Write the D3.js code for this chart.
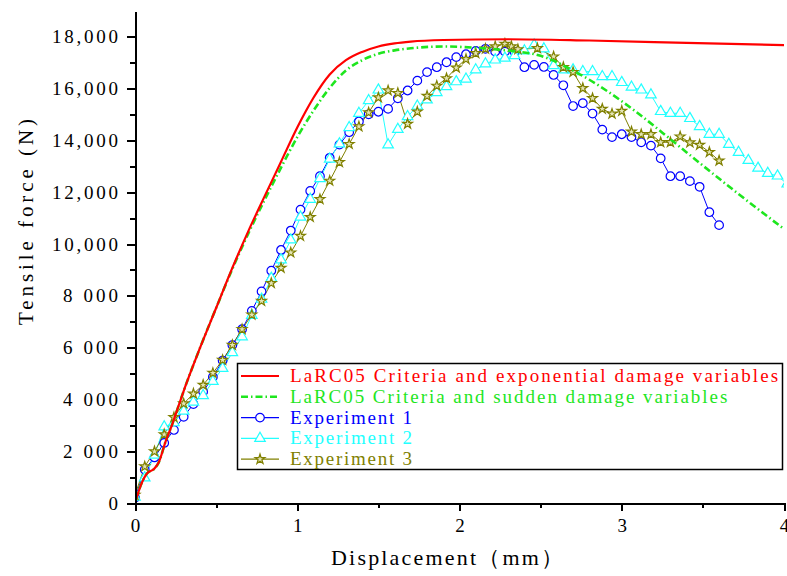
<!DOCTYPE html>
<html>
<head>
<meta charset="utf-8">
<title>Tensile force vs displacement</title>
<style>
body { margin: 0; background: white; }

text {
    font-family: "Liberation Serif", "DejaVu Serif", serif;
}

.axis path, .axis line {
    stroke: black;
    stroke-width: 2px;
    shape-rendering: crispEdges;
}

.axis text {
    font-family: "Liberation Serif", serif;
    font-size: 19px;
    fill: black;
}

.exp {
    fill: none;
    stroke-width: 1px;
}
</style>
</head>
<body>
<div id="chart"></div>
<script src="https://cdn.jsdelivr.net/npm/d3@7/dist/d3.min.js"></script>
<script>
// tick values / labels
var xMajor = [0, 1, 2, 3, 4];
var xMinor = [0.5, 1.5, 2.5, 3.5];
var yMajor = [0, 2000, 4000, 6000, 8000, 10000, 12000, 14000, 16000, 18000];
var yTickLabels = ["0", "2 000", "4 000", "6 000", "8 000", "10,000", "12,000", "14,000", "16,000", "18,000"];
var yMinor = [1000, 3000, 5000, 7000, 9000, 11000, 13000, 15000, 17000];

var seriesNames = [
    "LaRC05 Criteria and exponential damage variables",
    "LaRC05 Criteria and sudden damage variables",
    "Experiment 1",
    "Experiment 2",
    "Experiment 3"
];

// [displacement mm, force N]
var larcExponential = [[0,0],[0.04,750],[0.075,1150],[0.115,1300],[0.145,1550],[0.19,2400],[0.23,3050],
    [0.27,3780],[0.31,4500],[0.4,5980],[0.5,7530],[0.6,9080],[0.7,10520],[0.8,11860],[0.9,13180],
    [1.0,14500],[1.05,15100],[1.1,15650],[1.2,16550],[1.3,17100],[1.4,17420],[1.5,17630],[1.6,17750],
    [1.7,17820],[1.9,17880],[2.3,17910],[2.8,17860],[3.4,17770],[4.0,17680]];

var larcSudden = [[0,0],[0.04,750],[0.075,1150],[0.115,1300],[0.145,1550],[0.19,2400],[0.23,3050],
    [0.27,3780],[0.31,4500],[0.4,5980],[0.5,7530],[0.6,9040],[0.7,10430],[0.8,11720],[0.9,12950],
    [1.0,14130],[1.1,15150],[1.2,16030],[1.3,16700],[1.4,17100],[1.5,17350],[1.6,17480],[1.7,17560],
    [1.9,17630],[2.1,17580],[2.3,17470],[2.5,17270],[2.7,16700],[2.9,15950],[3.1,15050],[3.3,14050],
    [3.5,13030],[3.7,12030],[4.0,10580]];

var exp1 = [[0,200],[0.06,1290],[0.12,1760],[0.18,2320],[0.24,2820],[0.30,3330],[0.36,3820],[0.42,4300],
    [0.48,4870],[0.54,5500],[0.60,6100],[0.66,6710],[0.72,7420],[0.78,8170],[0.84,8970],[0.90,9770],
    [0.96,10520],[1.02,11330],[1.08,12050],[1.14,12620],[1.20,13330],[1.26,13840],[1.32,14320],
    [1.38,14730],[1.44,15010],[1.50,15110],[1.56,15220],[1.62,15630],[1.68,15930],[1.74,16310],
    [1.80,16640],[1.86,16830],[1.92,17020],[1.98,17220],[2.04,17330],[2.10,17460],[2.16,17540],
    [2.22,17430],[2.28,17430],[2.34,17420],[2.40,16830],[2.46,16920],[2.52,16840],[2.58,16530],
    [2.64,16130],[2.70,15330],[2.76,15440],[2.82,15040],[2.88,14420],[2.94,14130],[3.00,14240],
    [3.06,14130],[3.12,13930],[3.18,13800],[3.24,13310],[3.30,12620],[3.36,12620],[3.42,12430],
    [3.48,12210],[3.54,11230],[3.60,10730]];

var exp2 = [[0,230],[0.06,970],[0.12,1850],[0.18,2940],[0.24,3100],[0.30,3550],[0.36,3900],[0.42,4150],
    [0.48,4700],[0.54,5200],[0.60,5810],[0.66,6420],[0.72,7250],[0.78,7870],[0.84,8680],[0.90,9390],
    [0.96,10160],[1.02,11040],[1.08,11730],[1.14,12530],[1.20,13280],[1.26,13870],[1.32,14500],
    [1.38,15050],[1.44,15540],[1.50,15950],[1.56,13830],[1.62,14430],[1.68,14920],[1.74,15330],
    [1.80,15570],[1.86,15850],[1.92,16080],[1.98,16270],[2.04,16370],[2.10,16730],[2.16,16960],
    [2.22,17110],[2.28,17180],[2.34,17280],[2.40,17460],[2.46,17690],[2.52,17540],[2.58,16890],
    [2.64,16730],[2.70,16730],[2.76,16660],[2.82,16660],[2.88,16470],[2.94,16470],[3.00,16240],
    [3.06,16060],[3.12,15950],[3.18,15760],[3.24,15120],[3.30,15050],[3.36,15050],[3.42,14850],
    [3.48,14540],[3.54,14240],[3.60,14240],[3.66,13850],[3.72,13540],[3.78,13230],[3.84,12930],
    [3.90,12730],[3.96,12630],[4.02,12320]];

var exp3 = [[0,310],[0.06,1410],[0.12,1990],[0.18,2650],[0.24,3310],[0.30,3840],[0.36,4220],[0.42,4560],
    [0.48,5020],[0.54,5520],[0.60,6100],[0.66,6710],[0.72,7270],[0.78,7800],[0.84,8490],[0.90,9080],
    [0.96,9670],[1.02,10310],[1.08,11040],[1.14,11730],[1.20,12440],[1.26,13160],[1.32,13860],
    [1.38,14540],[1.44,15080],[1.50,15660],[1.56,15930],[1.62,15830],[1.68,14640],[1.74,15110],
    [1.80,15720],[1.86,16110],[1.92,16400],[1.98,16810],[2.04,17140],[2.10,17370],[2.16,17540],
    [2.22,17630],[2.28,17730],[2.32,17630],[2.36,17520],[2.48,17560],[2.58,17240],[2.64,16830],
    [2.70,16640],[2.76,16020],[2.82,15630],[2.88,15220],[2.94,15030],[3.00,15140],[3.06,14340],
    [3.12,14240],[3.18,14240],[3.24,13930],[3.30,13930],[3.36,14150],[3.42,13920],[3.48,13830],
    [3.54,13550],[3.60,13220]];

(function() {
    var dimensions = { width: 787, height: 576 };
    var plot = { left: 135, right: 784, top: 11, bottom: 503 };
    var charWidth = 10.17; // legend text is monospaced in the original

    var colors = {
        red: "#ff0000",
        green: "#1ee61e",
        blue: "#0000ff",
        cyan: "#22ffff",
        olive: "#808000"
    };

    var xscale = d3.scaleLinear().domain([0, 4]).range([plot.left, plot.right]);
    var yscale = d3.scaleLinear().domain([0, 19000]).range([plot.bottom, plot.top]);

    var svg = d3.select("#chart")
        .append("svg")
        .attr("width", dimensions.width)
        .attr("height", dimensions.height);

    svg.append("defs").append("clipPath")
        .attr("id", "plotclip")
      .append("rect")
        .attr("x", plot.left)
        .attr("y", 0)
        .attr("width", plot.right - plot.left)
        .attr("height", plot.bottom);

    var gdata = svg.append("g")
        .attr("clip-path", "url(#plotclip)");

    var smooth = d3.line()
        .x(function(d) { return xscale(d[0]); })
        .y(function(d) { return yscale(d[1]); })
        .curve(d3.curveMonotoneX);
    var straight = d3.line()
        .x(function(d) { return xscale(d[0]); })
        .y(function(d) { return yscale(d[1]); });

    var circleSym = d3.symbol().type(d3.symbolCircle).size(58);
    var triSym = d3.symbol().type(d3.symbolTriangle).size(48);
    var starSym = d3.symbol().type(d3.symbolStar).size(30);
    var starFill = "#e4e4b4";

    var expSeries = [
        { data: exp1, color: colors.blue, sym: circleSym, fill: "white" },
        { data: exp2, color: colors.cyan, sym: triSym, fill: "white" },
        { data: exp3, color: colors.olive, sym: starSym, fill: starFill }
    ];

    // experiment lines + markers
    expSeries.forEach(function(s) {
        gdata.append("path")
            .attr("class", "exp")
            .attr("d", straight(s.data))
            .attr("stroke", s.color);
    });
    expSeries.forEach(function(s) {
        gdata.selectAll(null)
            .data(s.data)
            .enter().append("path")
            .attr("transform", function(d) { return "translate(" + xscale(d[0]) + "," + yscale(d[1]) + ")"; })
            .attr("d", s.sym())
            .attr("fill", s.fill)
            .attr("stroke", s.color)
            .attr("stroke-width", 1.2);
    });

    // model curves
    gdata.append("path")
        .attr("d", smooth(larcSudden))
        .attr("fill", "none")
        .attr("stroke", colors.green)
        .attr("stroke-width", 2.6)
        .attr("stroke-dasharray", "7,3,1.5,3");
    gdata.append("path")
        .attr("d", smooth(larcExponential))
        .attr("fill", "none")
        .attr("stroke", colors.red)
        .attr("stroke-width", 2.2);

    // axes
    var xaxis = d3.axisBottom(xscale)
        .tickValues(xMajor)
        .tickFormat(d3.format("d"))
        .tickSize(8)
        .tickSizeOuter(0)
        .tickPadding(8);
    var xaxisMinor = d3.axisBottom(xscale)
        .tickValues(xMinor)
        .tickFormat("")
        .tickSize(5)
        .tickSizeOuter(0);
    svg.append("g")
        .attr("class", "axis")
        .attr("transform", "translate(0," + plot.bottom + ")")
        .call(xaxisMinor);
    svg.append("g")
        .attr("class", "axis")
        .attr("transform", "translate(0," + plot.bottom + ")")
        .call(xaxis);

    var yaxis = d3.axisLeft(yscale)
        .tickValues(yMajor)
        .tickFormat(function(d, i) { return yTickLabels[i]; })
        .tickSize(8)
        .tickSizeOuter(0)
        .tickPadding(9);
    var yaxisMinor = d3.axisLeft(yscale)
        .tickValues(yMinor)
        .tickFormat("")
        .tickSize(5)
        .tickSizeOuter(0);
    svg.append("g")
        .attr("class", "axis")
        .attr("transform", "translate(" + plot.left + ",0)")
        .call(yaxisMinor);
    var gy = svg.append("g")
        .attr("class", "axis")
        .attr("transform", "translate(" + plot.left + ",0)")
        .call(yaxis);
    gy.selectAll(".tick text")
        .attr("textLength", function(d, i) { return yTickLabels[i].length * 11; })
        .attr("lengthAdjust", "spacing");

    // axis titles
    svg.append("text")
        .attr("x", 447)
        .attr("y", 565)
        .attr("text-anchor", "middle")
        .attr("textLength", 232)
        .attr("lengthAdjust", "spacing")
        .style("font-size", "22px")
        .text("Displacement（mm）");
    svg.append("text")
        .attr("transform", "translate(33,222) rotate(-90)")
        .attr("text-anchor", "middle")
        .attr("textLength", 206)
        .attr("lengthAdjust", "spacing")
        .style("font-size", "21px")
        .text("Tensile force (N)");

    // legend
    var lg = svg.append("g").attr("class", "legend");
    lg.append("rect")
        .attr("x", 237.5)
        .attr("y", 363.5)
        .attr("width", 545)
        .attr("height", 106)
        .attr("fill", "white")
        .attr("stroke", "black")
        .attr("stroke-width", 1.5);

    var legendItems = [
        { color: colors.red, width: 2.2, dash: null, sym: null },
        { color: colors.green, width: 2.6, dash: "7,3,1.5,3", sym: null },
        { color: colors.blue, width: 1.2, dash: null, sym: circleSym, fill: "white" },
        { color: colors.cyan, width: 1.2, dash: null, sym: triSym, fill: "white" },
        { color: colors.olive, width: 1.2, dash: null, sym: starSym, fill: starFill }
    ];
    legendItems.forEach(function(it, i) {
        var y = 376 + i * 20.8;
        lg.append("line")
            .attr("x1", 241)
            .attr("x2", 279)
            .attr("y1", y)
            .attr("y2", y)
            .attr("stroke", it.color)
            .attr("stroke-width", it.width)
            .attr("stroke-dasharray", it.dash);
        if (it.sym) {
            lg.append("path")
                .attr("transform", "translate(260," + y + ")")
                .attr("d", it.sym())
                .attr("fill", it.fill)
                .attr("stroke", it.color)
                .attr("stroke-width", 1.2);
        }
        lg.append("text")
            .attr("x", 290)
            .attr("y", y + 6)
            .attr("fill", it.color)
            .attr("textLength", seriesNames[i].length * charWidth)
            .attr("lengthAdjust", "spacing")
            .style("font-size", "19px")
            .text(seriesNames[i]);
    });
})();
</script>
</body>
</html>
